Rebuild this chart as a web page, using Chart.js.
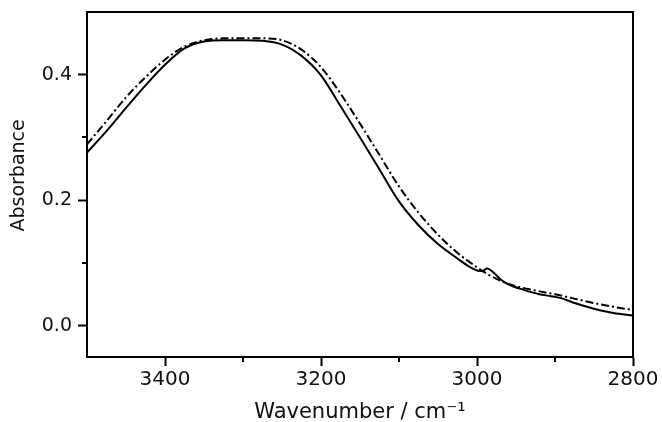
<!DOCTYPE html>
<html>
<head>
<meta charset="utf-8">
<script src="https://cdn.jsdelivr.net/npm/chart.js@4.4.1/dist/chart.umd.min.js"></script>
<style>
  html, body { margin: 0; padding: 0; background: #ffffff; }
  #wrap { width: 662px; height: 422px; }
</style>
</head>
<body>
<div id="wrap"><canvas id="c" width="662" height="422"></canvas></div>
<script>
// ---- data ----
const solidWn  = [3500, 3475, 3450, 3425, 3400, 3375, 3350, 3325, 3300, 3275, 3250, 3225, 3200, 3175, 3150, 3125, 3100, 3075, 3050, 3025, 3010, 3000, 2993, 2987, 2980, 2970, 2960, 2940, 2920, 2905, 2890, 2875, 2850, 2825, 2800];
const solidAbs = [0.276, 0.310, 0.347, 0.383, 0.416, 0.442, 0.453, 0.455, 0.455, 0.454, 0.448, 0.430, 0.399, 0.350, 0.300, 0.249, 0.198, 0.160, 0.130, 0.107, 0.094, 0.088, 0.087, 0.091, 0.086, 0.074, 0.066, 0.057, 0.050, 0.047, 0.043, 0.036, 0.027, 0.020, 0.016];

const dashWn   = [3500, 3475, 3450, 3425, 3400, 3375, 3350, 3325, 3300, 3275, 3250, 3225, 3200, 3175, 3150, 3125, 3100, 3075, 3050, 3025, 3000, 2985, 2965, 2950, 2925, 2900, 2875, 2850, 2825, 2800];
const dashAbs  = [0.289, 0.326, 0.364, 0.396, 0.424, 0.445, 0.455, 0.458, 0.458, 0.458, 0.455, 0.440, 0.412, 0.370, 0.322, 0.272, 0.222, 0.180, 0.145, 0.116, 0.093, 0.081, 0.069, 0.063, 0.056, 0.050, 0.043, 0.036, 0.030, 0.025];

const xTicks = [3400, 3200, 3000, 2800];
const xMinor = [3300, 3100, 2900];
const yTicks = [0.0, 0.2, 0.4];
const yMinor = [0.1, 0.3];

const xTitle = 'Wavenumber / cm\u207B\u00B9';
const yTitle = '   Absorbance';

// ---- build ----
const toPts = (xs, ys) => xs.map((x, i) => ({ x: x, y: ys[i] }));

const frameAndMinor = {
  id: 'frameAndMinor',
  afterDraw(chart) {
    const { ctx, chartArea: a, scales: { x, y } } = chart;
    ctx.save();
    ctx.strokeStyle = '#000';
    ctx.lineWidth = 2;
    ctx.strokeRect(a.left, a.top, a.right - a.left, a.bottom - a.top);
    ctx.beginPath();
    xMinor.forEach(v => {
      const px = Math.round(x.getPixelForValue(v));
      ctx.moveTo(px, a.bottom);
      ctx.lineTo(px, a.bottom + 5);
    });
    yMinor.forEach(v => {
      const py = Math.round(y.getPixelForValue(v));
      ctx.moveTo(a.left, py);
      ctx.lineTo(a.left - 5, py);
    });
    ctx.stroke();
    ctx.restore();
  }
};

new Chart(document.getElementById('c'), {
  type: 'line',
  data: {
    datasets: [
      {
        data: toPts(solidWn, solidAbs),
        borderColor: '#000',
        borderWidth: 2,
        pointRadius: 0,
        cubicInterpolationMode: 'monotone',
        fill: false
      },
      {
        data: toPts(dashWn, dashAbs),
        borderColor: '#000',
        borderWidth: 2,
        borderDash: [8, 3, 2, 3],
        pointRadius: 0,
        cubicInterpolationMode: 'monotone',
        fill: false
      }
    ]
  },
  options: {
    responsive: false,
    animation: false,
    devicePixelRatio: 1,
    layout: { padding: { left: 0, right: 29, top: 12, bottom: 0 } },
    plugins: { legend: { display: false }, tooltip: { enabled: false } },
    scales: {
      x: {
        type: 'linear',
        min: 2800,
        max: 3500,
        reverse: true,
        afterBuildTicks: s => { s.ticks = xTicks.map(v => ({ value: v })); },
        afterFit: s => { s.height = 65; },
        grid: { drawOnChartArea: false, tickLength: 9, tickWidth: 2, tickColor: '#000' },
        border: { display: true, color: '#000', width: 2 },
        ticks: {
          color: '#111',
          padding: 2,
          maxRotation: 0,
          font: { family: 'DejaVu Sans', size: 20 },
          callback: v => String(v)
        },
        title: {
          display: true,
          text: xTitle,
          color: '#111',
          font: { family: 'DejaVu Sans', size: 21 },
          padding: { top: 0, bottom: -3 }
        }
      },
      y: {
        type: 'linear',
        min: -0.05,
        max: 0.5,
        afterBuildTicks: s => { s.ticks = yTicks.map(v => ({ value: v })); },
        afterFit: s => { s.width = 87; s.paddingTop = 0; s.paddingBottom = 0; },
        grid: { drawOnChartArea: false, tickLength: 9, tickWidth: 2, tickColor: '#000' },
        border: { display: true, color: '#000', width: 2 },
        ticks: {
          color: '#111',
          padding: 6,
          font: { family: 'DejaVu Sans', size: 19 },
          callback: v => v.toFixed(1)
        },
        title: {
          display: true,
          text: yTitle,
          color: '#111',
          font: { family: 'DejaVu Sans', size: 19 },
          padding: { top: 8, bottom: 0 }
        }
      }
    }
  },
  plugins: [frameAndMinor]
});
</script>
</body>
</html>
